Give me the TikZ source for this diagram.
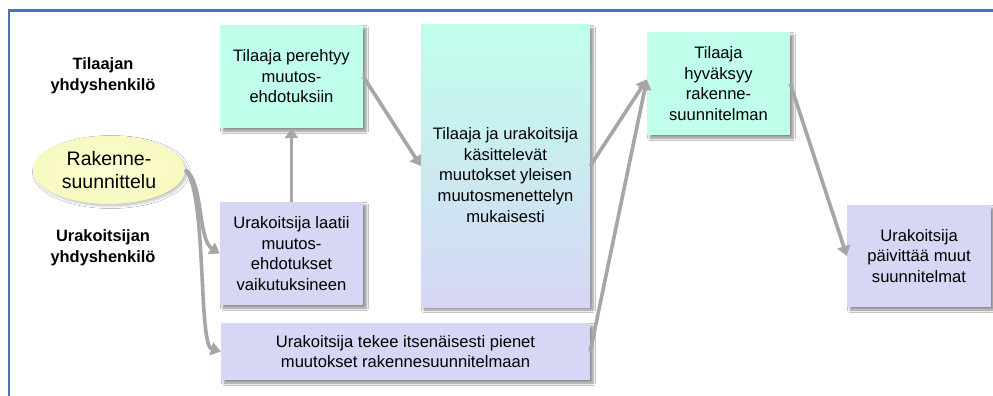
\documentclass[tikz,border=0pt]{standalone}
\usepackage{fontspec}
\setmainfont{Liberation Sans}
\usetikzlibrary{shapes.geometric,arrows.meta,shadows.blur}

\definecolor{tealbox}{RGB}{192,255,236}
\definecolor{lavbox}{RGB}{214,214,245}
\definecolor{ellin}{RGB}{255,255,212}
\definecolor{ellout}{RGB}{248,248,192}
\definecolor{frameblue}{RGB}{68,114,196}
\definecolor{arrowgray}{RGB}{166,166,166}

\tikzset{
  boxshadow/.style={blur shadow={shadow xshift=3pt, shadow yshift=-3pt,
      shadow blur steps=6, shadow blur radius=2.5pt, shadow opacity=45}},
  softshadow/.style={blur shadow={shadow xshift=2pt, shadow yshift=-2pt,
      shadow blur steps=6, shadow blur radius=2.5pt, shadow opacity=25}},
  stepbox/.style={rectangle, inner sep=0pt, align=center,
      font=\fontsize{16.6}{20.5}\selectfont, boxshadow},
  ownerbox/.style={stepbox, fill=tealbox},
  doerbox/.style={stepbox, fill=lavbox},
  rolelabel/.style={align=center, font=\bfseries\fontsize{16.4}{21.5}\selectfont},
  conn/.style={draw=arrowgray, line width=3.6pt,
      -{Triangle[length=10pt,width=13pt]}},
}

\begin{document}
\begin{tikzpicture}[x=1pt,y=-1pt]
  % canvas and outer frame
  \fill[white] (0,0) rectangle (993,396);
  \useasboundingbox (0,0) rectangle (993,396);
  \draw[frameblue, line width=2.5pt] (9,396) -- (9,10.5) -- (993,10.5);

  % role labels
  \node[rolelabel] (lblowner) at (103,76) {Tilaajan\\yhdyshenkilö};
  \node[rolelabel] (lbldoer) at (103,248) {Urakoitsijan\\yhdyshenkilö};

  % design input
  \node[ellipse, minimum width=152pt, minimum height=68pt, inner sep=0pt,
        inner color=ellin, outer color=ellout, softshadow, align=center,
        font=\fontsize{19.5}{23}\selectfont] (design) at (109,170)
        {Rakenne-\\suunnittelu};

  % process steps
  \node[ownerbox, minimum width=143pt, minimum height=103pt] (review) at (291.5,76.5)
        {Tilaaja perehtyy\\muutos-\\ehdotuksiin};
  \node[doerbox, minimum width=143pt, minimum height=103pt] (propose) at (291.5,253.5)
        {Urakoitsija laatii\\muutos-\\ehdotukset\\vaikutuksineen};
  \node[stepbox, minimum width=169pt, minimum height=282pt,
        top color=tealbox, bottom color=lavbox] (handle) at (505.5,166) {};
  \node[align=center, font=\fontsize{16.6}{20.8}\selectfont] (handletext) at (505.5,175)
        {Tilaaja ja urakoitsija\\käsittelevät\\muutokset yleisen\\muutosmenettelyn\\mukaisesti};
  \node[ownerbox, minimum width=143pt, minimum height=103pt] (approve) at (718.5,83.5)
        {Tilaaja\\hyväksyy\\rakenne-\\suunnitelman};
  \node[doerbox, minimum width=144pt, minimum height=102pt] (update) at (919,256)
        {Urakoitsija\\päivittää muut\\suunnitelmat};
  \node[doerbox, minimum width=369pt, minimum height=57pt] (minor) at (405.5,351.5)
        {Urakoitsija tekee itsenäisesti pienet\\muutokset rakennesuunnitelmaan};

  % connectors
  \draw[conn] (design.east) .. controls (203,180) and (198,240) .. (propose.west);
  \draw[conn] (design.east) .. controls (207,190) and (198,345) .. (minor.west);
  \draw[conn] (propose.north) -- (review.south);
  \draw[conn] (review.east) -- (handle.west);
  \draw[conn] (handle.east) -- ([yshift=4pt]approve.west);
  \draw[conn] (minor.east) -- ([yshift=4pt]approve.west);
  \draw[conn] (approve.east) -- (update.west);
\end{tikzpicture}
\end{document}
